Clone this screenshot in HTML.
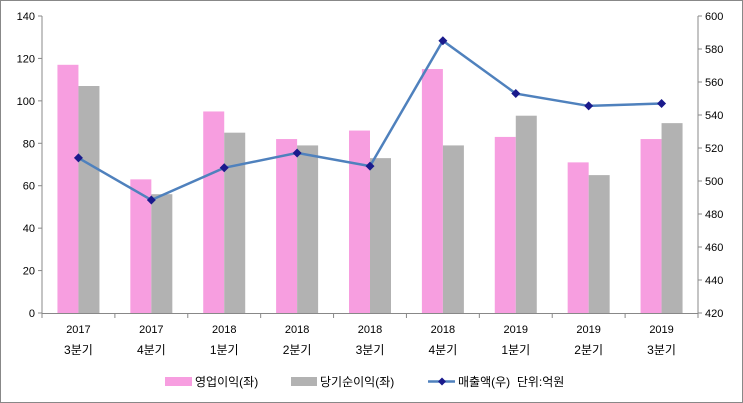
<!DOCTYPE html>
<html><head><meta charset="utf-8"><style>
body{margin:0;background:#fff}
svg{display:block;font-family:"Liberation Sans","Noto Sans CJK KR",sans-serif}
</style></head><body>
<svg width="743" height="403">
<rect x="0.5" y="0.5" width="742" height="402" fill="#fff" stroke="#888"/>
<g id="plot"></g>
<g font-size="12" fill="#000">
<rect x="165" y="377" width="27" height="9" fill="#f79ee0"/>
<text x="195" y="386">영업이익(좌)</text>
<rect x="291" y="377" width="26" height="9" fill="#b2b2b2"/>
<text x="320" y="386">당기순이익(좌)</text>
<line x1="428" y1="381.5" x2="455" y2="381.5" stroke="#4f81bd" stroke-width="2.5"/>
<path d="M442 377.5L446 381.5L442 385.5L438 381.5Z" fill="#1a1a8c"/>
<text x="458" y="386">매출액(우)&#160; 단위:억원</text>
</g>
</svg>
<script>
const years=["2017","2017","2018","2018","2018","2018","2019","2019","2019"];
const quarters=["3분기","4분기","1분기","2분기","3분기","4분기","1분기","2분기","3분기"];
const operating=[117,63,95,82,86,115,83,71,82];
const netIncome=[107,56,85,79,73,79,93,65,89.5];
const sales=[514,488.5,508,517,509,585,553,545.5,547];
const leftTicks=[0,20,40,60,80,100,120,140];
const rightTicks=[420,440,460,480,500,520,540,560,580,600];
const L=42,R=698,T=16,B=313;
const yL=v=>B-(v/140)*(B-T);
const yR=v=>B-((v-420)/180)*(B-T);
const cw=(R-L)/years.length;
const cx=i=>L+cw*(i+0.5);
const g=document.getElementById('plot');
const NS='http://www.w3.org/2000/svg';
function mk(t,a){const e=document.createElementNS(NS,t);for(const k in a)e.setAttribute(k,a[k]);g.appendChild(e);return e;}
let e=mk('line',{x1:L,y1:T,x2:L,y2:B,stroke:'#888'});


e=mk('line',{x1:R,y1:T,x2:R,y2:B,stroke:'#888'});


e=mk('line',{x1:L,y1:B+0.5,x2:R,y2:B+0.5,stroke:'#888'});


leftTicks.forEach(v=>{const y=yL(v);
 mk('line',{x1:L-4,y1:y,x2:L,y2:y,stroke:'#888'});
 e=mk('text',{x:L-7,y:y+4,'font-size':11,'text-anchor':'end'});e.textContent=v;
 
 });
rightTicks.forEach(v=>{const y=yR(v);
 mk('line',{x1:R,y1:y,x2:R+4,y2:y,stroke:'#888'});
 e=mk('text',{x:R+7,y:y+4,'font-size':11});e.textContent=v;
 
 });
for(let i=0;i<=years.length;i++){const x=L+cw*i;mk('line',{x1:x,y1:B,x2:x,y2:B+5,stroke:'#888'});}
years.forEach((yv,i)=>{
 e=mk('rect',{x:cx(i)-21,y:yL(operating[i]),width:21,height:B-yL(operating[i]),fill:'#f79ee0'});
 
 
 e=mk('rect',{x:cx(i),y:yL(netIncome[i]),width:21,height:B-yL(netIncome[i]),fill:'#b2b2b2'});
 
 
 e=mk('text',{x:cx(i),y:333,'font-size':11,'text-anchor':'middle'});e.textContent=yv;
 
 
 e=mk('text',{x:cx(i),y:354,'font-size':12,'text-anchor':'middle'});e.textContent=quarters[i];
 
 
});
e=mk('polyline',{points:sales.map((v,i)=>cx(i)+','+yR(v)).join(' '),fill:'none',stroke:'#4f81bd','stroke-width':2.5});


sales.forEach((v,i)=>{const x=cx(i),y=yR(v);
 e=mk('path',{d:`M${x} ${y-4.5}L${x+4.5} ${y}L${x} ${y+4.5}L${x-4.5} ${y}Z`,fill:'#1a1a8c'});
 
 });
</script>
</body></html>
